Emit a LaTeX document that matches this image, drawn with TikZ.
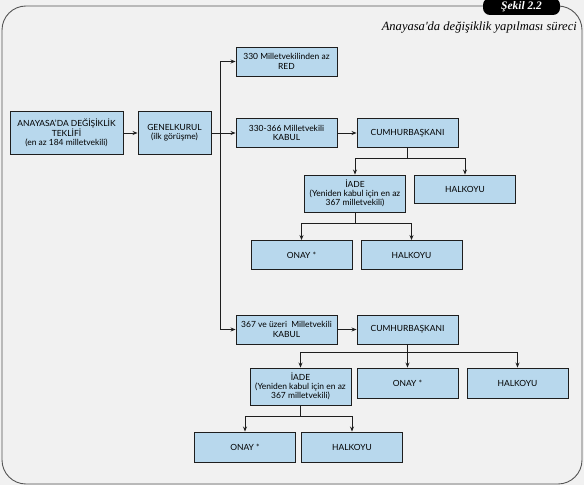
\documentclass[tikz,border=0pt]{standalone}
\usepackage{fontspec}
\setmainfont{Lato}
\newfontfamily\titlefont{Liberation Serif}
\usetikzlibrary{arrows.meta}
\definecolor{bgcol}{RGB}{241,241,241}
\definecolor{boxblue}{RGB}{184,216,237}
\definecolor{framecol}{RGB}{85,85,85}
\definecolor{edgecol}{RGB}{30,30,30}
\tikzset{
  box/.style={draw=edgecol, fill=boxblue, line width=0.9pt, align=center,
    inner sep=1pt, font=\fontsize{8.5}{9.3}\selectfont, minimum width=101bp, minimum height=29bp},
  conn/.style={draw=edgecol, line width=0.8pt},
  arr/.style={conn, -{Stealth[length=5pt,width=4pt]}}
}
\begin{document}
\begin{tikzpicture}[x=1bp,y=-1bp]
\useasboundingbox (0,0) rectangle (584,485);
\fill[bgcol] (0,0) rectangle (584,485);
% frame
\draw[framecol, line width=0.9pt, rounded corners=24bp] (2,6) rectangle (582,484);
\node[fill=black, rounded corners=7bp, minimum width=77bp, minimum height=17bp, inner sep=0pt,
  text=white, font=\titlefont\bfseries\itshape\fontsize{11.5}{11.5}\selectfont] (pill) at (521.5,6.5) {Şekil 2.2};
\node[anchor=base east, inner sep=0pt, font=\titlefont\itshape\fontsize{12.6}{12.6}\selectfont] (title) at (577,31) {Anayasa'da değişiklik yapılması süreci};

% nodes
\node[box, minimum width=113bp, minimum height=43bp] (n1) at (66.5,133) {ANAYASA'DA DEĞİŞİKLİK\\TEKLİFİ\\(en az 184 milletvekili)};
\node[box, minimum width=73bp, minimum height=43bp] (n2) at (174.5,133) {GENELKURUL\\(ilk görüşme)};
\node[box] (red) at (286.5,61.5) {330 Milletvekilinden az\\RED};
\node[box] (kab1) at (286.5,133) {330-366 Milletvekili\\KABUL};
\node[box] (cb1) at (407.5,133) {CUMHURBAŞKANI};
\node[box, minimum height=37bp] (iade1) at (355,193.5) {İADE\\(Yeniden kabul için en az\\367 milletvekili)};
\node[box, minimum height=28bp] (hk1) at (465,189) {HALKOYU};
\node[box] (onay1) at (301.5,255) {ONAY *};
\node[box] (hk2) at (411.5,255) {HALKOYU};
\node[box] (kab2) at (286.5,329.5) {367 ve üzeri\ \ Milletvekili\\KABUL};
\node[box] (cb2) at (407.5,329.5) {CUMHURBAŞKANI};
\node[box, minimum height=37bp] (iade2) at (300.5,386.5) {İADE\\(Yeniden kabul için en az\\367 milletvekili)};
\node[box, minimum height=30bp] (onay2) at (407.5,383) {ONAY *};
\node[box, minimum height=30bp] (hk3) at (517.5,383) {HALKOYU};
\node[box, minimum height=30bp] (onay3) at (245,447) {ONAY *};
\node[box, minimum height=30bp] (hk4) at (352,447) {HALKOYU};

% connectors
\draw[arr] (n1) -- (n2);
\draw[arr] (n2) -- (kab1);
\coordinate (t) at (220,133);
\draw[arr] (t) |- (red.west);
\draw[arr] (t) |- (kab2.west);
\draw[arr] (kab1) -- (cb1);
\draw[arr] (kab2) -- (cb2);

\draw[conn] (cb1.south) -- ++(0,10) coordinate (j1);
\draw[arr] (j1) -| (iade1.north);
\draw[arr] (j1) -| (hk1.north);

\draw[conn] (iade1.south) -- ++(0,11) coordinate (j2);
\draw[arr] (j2) -| (onay1.north);
\draw[arr] (j2) -| (hk2.north);

\draw[conn] (cb2.south) -- ++(0,8) coordinate (j3);
\draw[arr] (j3) -| (iade2.north);
\draw[arr] (j3) -- (onay2.north);
\draw[arr] (j3) -| (hk3.north);

\draw[conn] (iade2.south) -- ++(0,11) coordinate (j4);
\draw[arr] (j4) -| (onay3.north);
\draw[arr] (j4) -| (hk4.north);
\end{tikzpicture}
\end{document}
